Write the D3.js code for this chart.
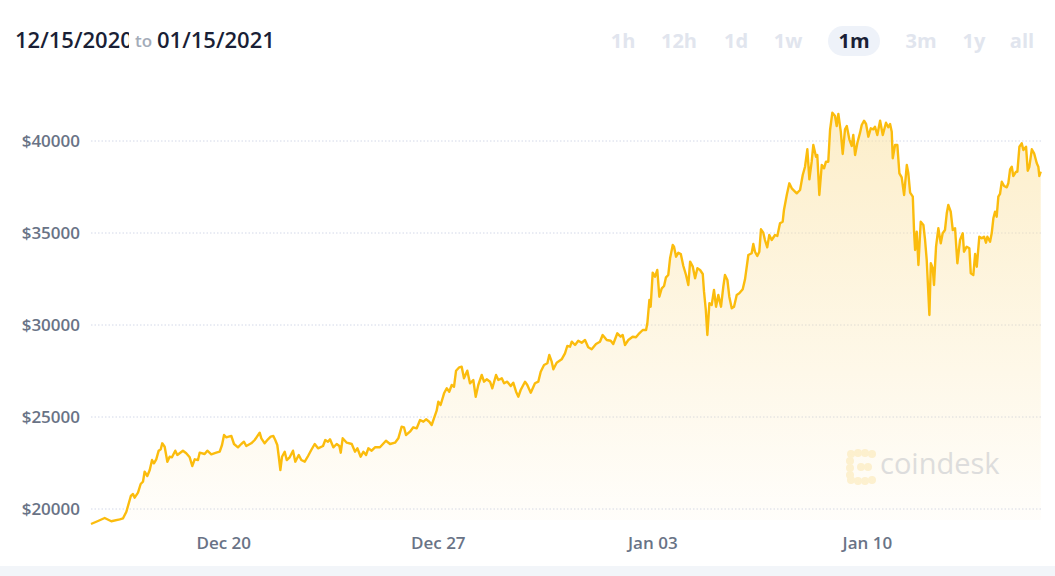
<!DOCTYPE html>
<html><head><meta charset="utf-8">
<script src="https://cdn.jsdelivr.net/npm/d3@7"></script>
<style>body{margin:0;background:#fff;} svg{display:block;font-family:'Open Sans',sans-serif;}</style>
</head><body><svg id="c" width="1055" height="576"></svg>
<script>
// ---- data ----
const startDate = "2020-12-15T16:00:00Z";
const endDate = "2021-01-15T16:00:00Z";
// hours since startDate
const hours = [0,5.5,10.7,15.9,22.5,25.1,27.7,31.2,32.9,34.2,36.8,38.9,40.7,42.0,44.1,46.0,47.8,49.3,51.1,53.0,54.6,55.8,57.7,59.8,61.6,63.4,66.0,67.6,72.0,74.6,77.3,79.3,81.2,83.8,85.1,89.0,91.1,94.2,98.1,100.8,102.6,104.2,106.0,107.8,109.9,112.0,115.1,117.7,119.8,121.6,125.5,128.2,132.1,133.4,136.0,138.6,140.7,142.8,144.3,145.9,147.0,148.3,149.6,151.7,153.3,155.6,158.2,160.0,162.7,164.7,167.4,170.0,172.5,175.2,177.8,181.7,183.5,185.6,
187.2,189.8,192.4,194.5,195.6,197.1,200.3,204.2,206.8,208.6,211.2,213.3,215.4,217.2,219.8,222.4,226.3,231.0,234.2,238.1,240.7,243.3,245.1,246.7,249.8,252.4,255.1,257.7,260.3,262.4,264.9,266.8,268.6,270.7,272.0,273.8,276.5,278.6,280.6,282.5,284.3,285.9,288.4,290.3,292.1,294.7,296.8,299.4,301.3,303.3,306.0,307.8,309.9,312.5,314.3,317.2,319.0,321.7,323.5,326.0,328.7,330.7,332.9,334.7,336.5,339.9,341.7,344.4,347.7,350.3,352.2,354.8,357.4,358.9,360.8,362.1,364.7,368.6,371.2,373.0,375.2,
376.5,379.1,381.6,384.3,386.9,389.4,392.1,395.5,398.6,400.7,403.9,407.0,409.0,412.2,414.8,416.4,418.2,420.8,424.2,426.8,429.4,432.1,434.7,435.7,437.3,438.3,439.9,441.7,443.5,445.1,447.0,448.8,450.3,452.1,453.5,455.6,456.6,458.2,460.0,461.9,463.9,466.0,467.8,469.2,471.3,473.1,474.9,477.0,479.1,480.1,481.5,482.7,484.3,486.1,487.9,489.5,491.3,493.4,495.2,496.5,498.4,499.9,501.8,503.6,505.7,507.7,510.4,512.2,514.8,517.4,518.7,520.0,521.8,523.4,524.7,526.5,527.8,529.6,531.2,533.1,535.7,537.5,539.6,541.7,542.7,544.9,546.9,548.8,
552.7,555.3,557.4,559.2,561.0,562.6,564.4,565.7,567.8,568.8,570.4,572.3,574.1,575.6,577.4,578.8,580.6,582.7,584.0,585.3,587.2,588.7,590.5,591.9,593.9,595.8,597.0,598.4,600.2,602.3,603.6,605.4,607.0,608.8,610.7,612.7,614.0,615.8,618.0,620.1,622.6,624.4,625.8,627.1,627.9,629.7,631.5,633.1,634.9,636.8,638.9,640.1,641.5,643.6,644.6,645.4,646.7,648.0,649.8,651.9,653.2,654.5,656.6,657.7,659.2,660.2,661.8,663.6,665.5,667.0,668.8,670.2,671.4,673.3,674.9,676.7,678.5,680.6,682.7,683.7,685.8,687.9,689.0,691.0,692.4,693.7,695.7,697.6,699.4,700.9,702.0,704.1,705.4,706.7,708.0,709.3,710.6,711.9,713.3,715.1,717.2,718.4,719.8,721.1,722.3,724.5,725.5,727.1,728.9,730.2,732.3,733.6,734.9,736.8,738.6,740.7,741.9,742.7,743.8];
const prices = [19185,19348,19511,19332,19440,19495,19853,20707,20815,20614,20886,21359,21484,22027,21794,22120,22663,22484,22701,23169,23245,23571,23386,22571,22842,22810,23169,22935,23169,23027,22810,22337,22701,22663,23060,22989,23169,22973,23060,23114,23478,24022,23897,23929,23967,23533,23353,23533,23658,23424,23571,23750,24147,23842,23571,23788,23929,23967,23750,23478,22880,22120,22842,23114,22663,22810,23169,22571,22935,22663,22571,22880,23207,23533,23299,23424,23750,23658,
23788,23353,23533,23424,23060,23842,23603,23533,23114,23299,22842,23114,22935,23299,23169,23353,23353,23712,23533,23603,23842,24473,24440,24022,24201,24440,24386,24837,24745,24875,24745,24565,24929,25342,25832,25652,26288,26560,26375,26739,26647,27516,27701,27734,27103,27516,26832,27011,26103,26739,27283,26919,27049,26919,26560,27283,27011,27103,26832,26919,26685,26864,26375,26103,26467,26919,26739,26321,26832,26919,27462,27826,27919,28370,28006,27592,27951,28136,28462,28859,28821,
29092,28913,29147,29038,29185,28788,28680,28967,29092,29457,29185,29147,28967,29549,29364,29457,28913,29185,29364,29332,29549,29728,29728,30093,31359,30995,32843,32625,32989,31538,31995,32120,32593,32718,33625,34348,34256,33712,33930,33859,33207,32718,32174,33441,33169,32538,33082,32989,32772,31810,30815,29457,31180,31087,31902,30995,31631,30995,32082,32718,32446,31538,30908,30995,31631,31723,31940,32484,33804,33897,34402,33984,33750,33984,35201,35017,34620,34223,34891,34620,34891,34837,35527,35614,36250,37065,37701,37429,
37158,37337,38152,38603,39549,37918,38875,39783,39147,39239,37065,38696,38516,38875,38875,40598,41538,41359,40816,41467,40506,39294,40636,40816,40093,39729,40326,39239,39908,40452,40870,41103,40924,40234,40690,40636,40777,40326,41103,40326,40995,40745,40924,40506,39060,39783,39783,38245,38027,37065,38696,38245,37190,36973,35071,34076,35071,33261,35614,35435,34620,33533,30543,33354,33082,32174,34256,35256,34440,34984,35163,36071,36522,36158,35163,35256,33354,34620,34984,33984,34256,34169,32810,32718,33859,33169,34799,34712,34799,34473,34799,34527,34984,35799,36158,35886,36973,37120,37788,37554,37484,37701,38462,38603,38098,38332,38332,39690,39875,39511,39690,38386,38603,39549,39332,38788,38603,38098,38332];
const yTicks = [20000, 25000, 30000, 35000, 40000];
const xTickDates = ["2020-12-20T00:00:00Z","2020-12-27T00:00:00Z","2021-01-03T00:00:00Z","2021-01-10T00:00:00Z"];
const xTickLabels = ["Dec 20","Dec 27","Jan 03","Jan 10"];
const ranges = ["1h","12h","1d","1w","1m","3m","1y","all"];
const activeRange = "1m";
const fromLabel = "12/15/2020", toWord = "to", toLabel = "01/15/2021";

// ---- chart ----
const svg = d3.select("#c");
const t0 = new Date(startDate);
const data = hours.map((h, i) => ({ t: new Date(t0.getTime() + h * 3600e3), v: prices[i] }));

const x = d3.scaleUtc().domain([new Date(startDate), new Date(endDate)]).range([91, 1041]);
const y = d3.scaleLinear().domain([20000, 40000]).range([509, 141]);

// bottom strip
svg.append("rect").attr("x", 0).attr("y", 566).attr("width", 1055).attr("height", 10).attr("fill", "#f2f5f9");

// header
const defs = svg.append("defs");
defs.append("clipPath").attr("id", "cf").append("rect").attr("x", 0).attr("y", 0).attr("width", 129).attr("height", 80);
defs.append("clipPath").attr("id", "ct").append("rect").attr("x", 150).attr("y", 0).attr("width", 122).attr("height", 80);
svg.append("text").attr("x", 15).attr("y", 48).attr("clip-path", "url(#cf)")
  .attr("font-size", 22).attr("font-weight", 600).attr("fill", "#1a1f36").text(fromLabel);
svg.append("text").attr("x", 135).attr("y", 47).attr("font-size", 17).attr("font-weight", 600).attr("fill", "#a3acb9").text(toWord);
svg.append("text").attr("x", 157).attr("y", 48).attr("clip-path", "url(#ct)")
  .attr("font-size", 22).attr("font-weight", 600).attr("fill", "#1a1f36").text(toLabel);

// range buttons
const btnPos = {"1h":623,"12h":679,"1d":736,"1w":788,"1m":854,"3m":921,"1y":974,"all":1022};
svg.append("rect").attr("x", btnPos[activeRange] - 26).attr("y", 26).attr("width", 52).attr("height", 30)
  .attr("rx", 15).attr("fill", "#eef2f9");
svg.selectAll("text.btn").data(ranges).join("text").attr("class", "btn")
  .attr("x", d => btnPos[d]).attr("y", 48).attr("text-anchor", "middle")
  .attr("font-size", 20).attr("font-weight", 700)
  .attr("fill", d => d === activeRange ? "#1a1f36" : "#e1e5ee").text(d => d);

// grid + y labels
svg.append("g").selectAll("line").data(yTicks).join("line")
  .attr("x1", 91).attr("x2", 1041).attr("y1", d => y(d)).attr("y2", d => y(d))
  .attr("stroke", "#d3d8e8").attr("stroke-width", 1).attr("stroke-dasharray", "1.5,2");
svg.append("g").selectAll("text").data(yTicks).join("text")
  .attr("x", 80).attr("y", d => y(d)).attr("dy", "0.35em").attr("text-anchor", "end")
  .attr("font-size", 17).attr("font-weight", 600).attr("fill", "#697386").text(d => "$" + d);

// x labels
svg.append("g").selectAll("text").data(xTickDates).join("text")
  .attr("x", d => x(new Date(d))).attr("y", 549).attr("text-anchor", "middle")
  .attr("font-size", 17).attr("font-weight", 600).attr("fill", "#697386")
  .text((d, i) => xTickLabels[i]);

// watermark
const wm = svg.append("g").attr("transform", "translate(847,450)");
const dots = [[4,4],[11,3],[18,3],[25,4],[3,11],[3,18],[3,25],[4,30],[11,31],[18,31],[25,30],[14,17],[21,17]];
wm.selectAll("circle").data(dots).join("circle").attr("cx", d => d[0]).attr("cy", d => d[1])
  .attr("r", 4).attr("fill", "#fdf2d4");
svg.append("text").attr("x", 880).attr("y", 474).attr("font-size", 29).attr("font-weight", 400)
  .attr("fill", "#d9dce4").text("coindesk");

// area gradient
const grad = defs.append("linearGradient").attr("id", "g").attr("gradientUnits", "userSpaceOnUse")
  .attr("x1", 0).attr("x2", 0).attr("y1", 110).attr("y2", 520);
grad.append("stop").attr("offset", 0).attr("stop-color", "#fbe3a6").attr("stop-opacity", 0.6);
grad.append("stop").attr("offset", 1).attr("stop-color", "#fbe3a6").attr("stop-opacity", 0.05);

svg.append("path").datum(data)
  .attr("d", d3.area().x(d => x(d.t)).y0(520).y1(d => y(d.v)))
  .attr("fill", "url(#g)");
svg.append("path").datum(data)
  .attr("d", d3.line().x(d => x(d.t)).y(d => y(d.v)))
  .attr("fill", "none").attr("stroke", "#fbbc0d").attr("stroke-width", 2.4).attr("stroke-linejoin", "round");
</script></body></html>
